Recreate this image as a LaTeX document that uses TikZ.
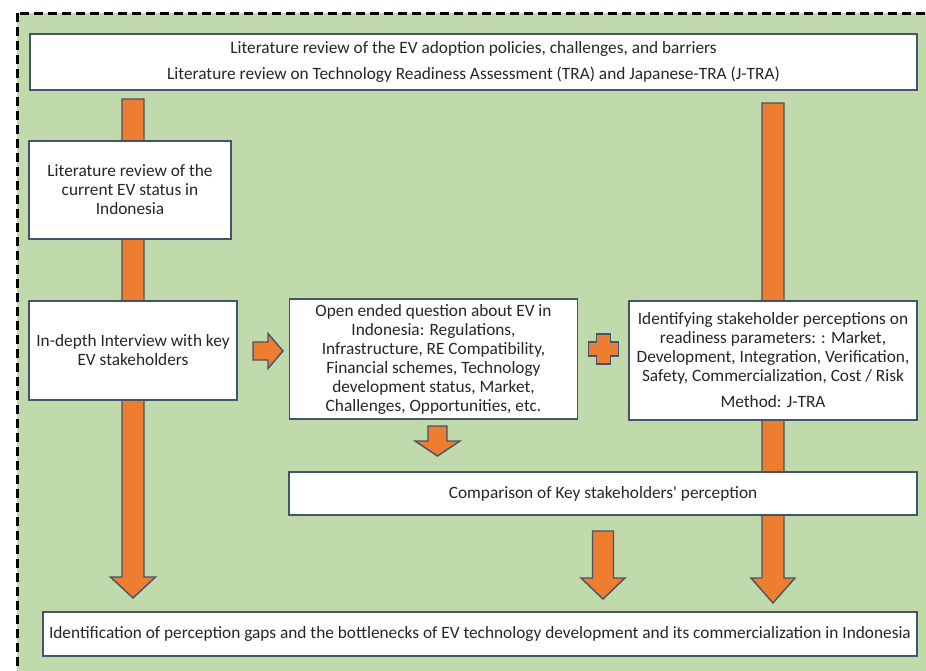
\documentclass[tikz,border=0pt]{standalone}
\usepackage{fontspec}
\setmainfont{Carlito}
\usetikzlibrary{positioning,calc}

\definecolor{evgreen}{HTML}{C0DAAB}
\definecolor{evorange}{HTML}{ED7D31}
\definecolor{evslate}{HTML}{44546A}

% block arrows: x, top, head base, tip, half shaft, half head
\newcommand{\blkdown}[6]{\draw[blk] (#1-#5,#2) -- (#1+#5,#2) -- (#1+#5,#3) -- (#1+#6,#3) -- (#1,#4) -- (#1-#6,#3) -- (#1-#5,#3) -- cycle;}
% y, left, head base, tip, half shaft, half head
\newcommand{\blkright}[6]{\draw[blk] (#2,#1-#5) -- (#3,#1-#5) -- (#3,#1-#6) -- (#4,#1) -- (#3,#1+#6) -- (#3,#1+#5) -- (#2,#1+#5) -- cycle;}

\begin{document}
\begin{tikzpicture}[x=1pt,y=-1pt,
  box/.style={rectangle,draw=evslate,fill=white,line width=1.6pt,inner sep=0pt,align=center,text=black!85,font=\fontsize{17.3}{19}\selectfont},
  blk/.style={fill=evorange,draw=evslate,line width=1.4pt,line join=miter}]

\useasboundingbox (0,0) rectangle (926,670);
\clip (0,0) rectangle (926,670);

%%%%%%%%%%%%%%%%%%%%%% FRAME

\draw[fill=evgreen,line width=3pt,dash pattern=on 9pt off 5pt] (17,13) rectangle (960,700);

%%%%%%%%%%%%%%%%%%%%%% ARROWS (behind the boxes)

\blkdown{133}{99}{577}{598}{11}{22.5}
\blkdown{773}{103}{578}{603}{11}{22}
\blkdown{603}{531}{578}{599}{10.5}{22}
\blkdown{437.5}{426}{441}{456}{9.5}{22.5}
\blkright{351}{253}{268}{283}{9}{17.5}

% plus sign
\draw[blk] (596.5,334) -- (610.5,334) -- (610.5,342) -- (618.5,342) -- (618.5,356) -- (610.5,356)
  -- (610.5,364) -- (596.5,364) -- (596.5,356) -- (588.5,356) -- (588.5,342) -- (596.5,342) -- cycle;

%%%%%%%%%%%%%%%%%%%%%% BOXES

\node[box,minimum width=887,minimum height=56] (Top) at (473.5,62)
  {Literature review of the EV adoption policies, challenges, and barriers\\[7pt]
   Literature review on Technology Readiness Assessment (TRA) and Japanese-TRA (J-TRA)};

\node[box,minimum width=202,minimum height=98] (LitCur) at (130,190)
  {Literature review of the\\ current EV status in\\ Indonesia};

\node[box,minimum width=208,minimum height=99] (Interview) at (133,350.5)
  {In-depth Interview with key\\ EV stakeholders};

\node[box,minimum width=288,minimum height=120] (OpenQ) at (433.5,359)
  {Open ended question about EV in\\ Indonesia: Regulations,\\ Infrastructure, RE Compatibility,\\
   Financial schemes, Technology\\ development status, Market,\\ Challenges, Opportunities, etc.};

\node[box,minimum width=288,minimum height=119] (Ident) at (773,360.5)
  {Identifying stakeholder perceptions on\\ readiness parameters: : Market,\\
   Development, Integration, Verification,\\ Safety, Commercialization, Cost / Risk\\[7pt] Method: J-TRA};

\node[box,minimum width=628,minimum height=43] (Compare) at (603,493.5)
  {Comparison of Key stakeholders\textquotesingle\ perception};

\node[box,minimum width=874,minimum height=44] (Gaps) at (480,634)
  {Identification of perception gaps and the bottlenecks of EV technology development and its commercialization in Indonesia};

\end{tikzpicture}
\end{document}
